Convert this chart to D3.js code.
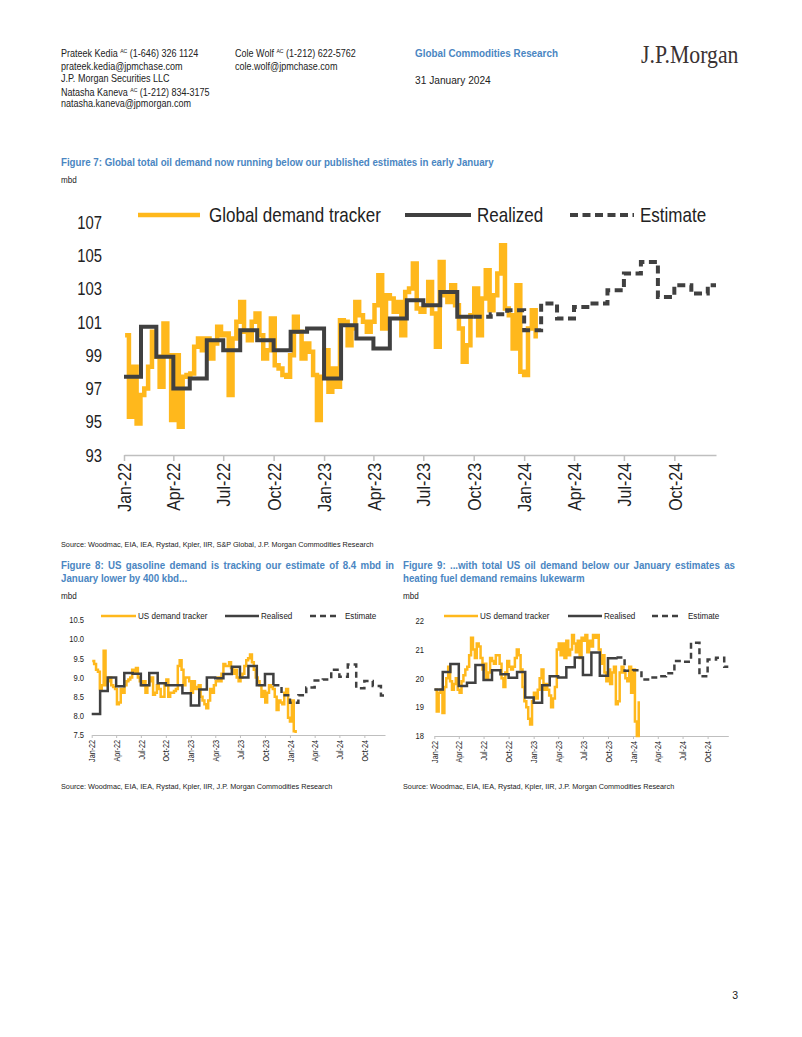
<!DOCTYPE html>
<html>
<head>
<meta charset="utf-8">
<script src="https://cdn.jsdelivr.net/npm/d3@7"></script>
<style>
  body { margin: 0; background: #fff; }
  svg text { font-family: 'Liberation Sans', Arial, sans-serif; fill: #222; }
</style>
</head>
<body>
<svg id="page" width="802" height="1037"></svg>
<script>
// ---- data ----
const quarterLabels = ["Jan-22","Apr-22","Jul-22","Oct-22","Jan-23","Apr-23","Jul-23","Oct-23","Jan-24","Apr-24","Jul-24","Oct-24"];

// Figure 7: global demand (mbd), weekly tracker from first week of Jan-22
const globalTracker = [100.2,95.3,98.3,94.9,96.6,97.0,98.3,100.4,98.9,97.1,100.9,99.0,95.1,99.0,94.7,97.7,97.8,97.9,99.5,100.0,
  99.3,100.0,98.8,99.7,100.7,100.2,100.3,96.6,100.0,101.0,102.2,100.4,99.9,101.0,101.5,100.2,98.8,99.3,101.2,98.4,
  98.2,97.8,97.7,99.0,101.3,100.4,98.8,99.7,99.2,97.8,95.1,97.7,99.3,96.8,98.2,97.1,101.1,101.0,99.6,100.6,
  102.2,101.4,101.0,100.4,101.0,102.0,103.8,100.6,102.6,102.4,101.6,102.2,100.2,102.8,103.0,104.5,101.8,101.6,102.0,103.4,
  101.5,99.5,104.6,102.6,102.2,103.2,102.0,100.6,98.6,99.6,101.4,103.0,100.2,102.4,104.1,101.7,102.6,103.9,105.6,101.8,
  101.4,99.4,103.2,98.0,97.8,100.6,101.7,100.0];
const globalRealized = [97.7,100.7,98.9,97.0,97.6,99.9,99.3,100.5,99.9,99.3,100.4,100.6,
  97.6,100.8,100.0,99.4,101.2,102.3,102.0,102.8,101.3,101.3];           // Jan-22 .. Oct-23
const globalEstimate = [101.3,101.45,101.7,100.5,102.1,101.2,101.9,102.1,102.9,103.9,104.6,102.5,103.2,102.7,103.2]; // Oct-23 .. Dec-24

// Figure 8: US gasoline demand (mbd)
const gasTracker = [9.43,9.35,9.2,9.15,8.7,8.8,9.7,8.8,8.9,9.0,8.8,8.75,8.7,8.3,8.35,8.7,8.6,8.8,8.9,8.95,
  9.0,9.2,9.1,9.25,9.0,8.9,8.8,8.9,8.6,8.8,8.9,9.0,8.55,8.6,8.8,8.7,8.5,8.5,8.8,8.95,
  8.5,8.6,8.6,8.65,8.7,9.3,9.45,9.2,8.8,9.0,9.0,8.9,8.6,8.9,8.7,8.75,8.8,8.5,8.4,8.3,
  8.2,8.4,8.7,8.6,8.8,8.9,9.0,8.9,9.1,9.35,9.3,9.3,9.4,9.25,9.1,9.2,9.0,8.9,9.0,9.1,
  9.3,9.45,9.5,9.6,9.4,9.2,9.0,8.9,8.8,8.5,8.65,8.35,8.6,8.8,8.75,8.7,8.5,8.15,8.4,8.35,
  8.3,8.6,8.7,7.95,7.85,8.4,7.6,7.55];
const gasRealized = [8.05,8.65,9.0,8.77,9.12,9.1,8.8,9.12,8.85,8.8,8.8,8.59,
  8.27,8.69,9.0,8.98,9.09,9.28,9.0,9.3,8.8,9.09,8.8];                  // Jan-22 .. Nov-23
const gasEstimate = [8.8,8.54,8.34,8.54,8.74,8.92,8.95,9.2,9.02,9.34,8.72,8.91,8.78,8.53]; // Nov-23 .. Dec-24

// Figure 9: total US oil demand (mbd)
const usTracker = [19.6,18.85,19.5,19.6,18.8,19.7,20.0,20.4,19.9,19.6,19.8,20.0,19.6,19.5,19.9,20.1,20.3,20.4,20.8,21.4,
  21.0,20.7,21.2,21.1,20.7,20.3,20.5,20.0,20.2,20.7,20.6,20.5,20.8,20.8,20.5,20.0,19.7,20.2,20.6,20.4,
  20.3,20.4,20.7,21.0,20.8,20.3,19.7,19.2,19.0,18.6,18.4,19.2,19.5,19.3,19.6,20.0,20.3,19.6,19.8,19.6,
  19.4,19.0,19.3,19.7,21.0,21.2,20.8,21.2,20.7,21.3,20.8,21.0,21.5,21.2,20.9,21.3,20.7,21.4,21.3,21.5,
  20.9,21.3,21.1,21.5,21.4,21.5,21.0,20.5,20.8,20.2,19.9,20.3,19.8,20.2,20.4,19.1,19.2,20.2,20.4,20.2,
  20.0,19.9,20.4,19.5,20.3,18.5,18.0,19.2];
const usRealized = [19.61,20.22,20.49,19.73,19.84,20.46,19.94,20.28,20.14,20.02,20.22,19.33,
  19.15,19.76,20.07,20.03,20.38,20.72,20.11,20.89,20.09,20.69,20.72];   // Jan-22 .. Nov-23
const usEstimate = [20.72,20.26,20.28,19.96,20.03,20.07,20.17,20.6,20.57,21.23,20.07,20.65,20.71,20.4]; // Nov-23 .. Dec-24

// ---- helpers ----
const YELLOW = "#FFB81C", DARK = "#404040", BLUE = "#4A86C2", AXIS = "#BFBFBF";
const xStart = new Date(2022, 0, 1), xEnd = new Date(2024, 11, 16);
const weekly = (arr) => arr.map((v, i) => ({ date: d3.timeWeek.offset(new Date(2022, 0, 3), i), value: v }));
const monthly = (arr, y, m) => arr.map((v, i) => ({ date: new Date(y, m + i, 1), value: v }));

const svg = d3.select("#page");
svg.append("rect").attr("width", 802).attr("height", 1037).attr("fill", "#fff");

// text drawn narrow like the pdf's Arial (horizontal squeeze)
function txt(x, y, s, size, opts = {}) {
  const sx = opts.sx || 1;
  const t = svg.append("text").attr("transform", `translate(${x},${y}) scale(${sx},1)`)
    .attr("font-size", size).text(s);
  if (opts.fill) t.style("fill", opts.fill);
  if (opts.weight) t.attr("font-weight", opts.weight);
  if (opts.anchor) t.attr("text-anchor", opts.anchor);
  if (opts.family) t.style("font-family", opts.family);
  if (opts.justify) {
    // stretch the word gaps so the line ends at the column edge
    const w = t.node().getComputedTextLength();
    const gaps = s.split(" ").length - 1;
    t.attr("word-spacing", (opts.justify / sx - w) / gaps);
  }
  return t;
}
function nameLine(x, y, name, rest) {
  const t = svg.append("text").attr("transform", `translate(${x},${y}) scale(0.86,1)`).attr("font-size", 10.5);
  t.append("tspan").text(name + " ");
  t.append("tspan").attr("font-size", 6).attr("dy", -4).text("AC");
  t.append("tspan").attr("dy", 4).text(" " + rest);
}

// ---- header ----
nameLine(61, 57, "Prateek Kedia", "(1-646) 326 1124");
txt(61, 70, "prateek.kedia@jpmchase.com", 10.5, { sx: 0.86 });
txt(61, 82, "J.P. Morgan Securities LLC", 10.5, { sx: 0.86 });
nameLine(61, 96, "Natasha Kaneva", "(1-212) 834-3175");
txt(61, 107, "natasha.kaneva@jpmorgan.com", 10.5, { sx: 0.86 });
nameLine(235, 57, "Cole Wolf", "(1-212) 622-5762");
txt(235, 70, "cole.wolf@jpmchase.com", 10.5, { sx: 0.86 });
txt(415, 57, "Global Commodities Research", 10.5, { fill: BLUE, weight: "bold", sx: 0.94 });
txt(415, 84, "31 January 2024", 10.5, { sx: 0.97 });
txt(641, 63, "J.P.Morgan", 25, { fill: "#3a3232", family: "'Liberation Serif', 'DejaVu Serif', serif", sx: 0.87 });

// ---- titles ----
txt(61, 166, "Figure 7: Global total oil demand now running below our published estimates in early January", 11.5, { fill: BLUE, weight: "bold", sx: 0.845 });
txt(61, 183, "mbd", 9, { sx: 0.9 });
txt(61, 547, "Source: Woodmac, EIA, IEA, Rystad, Kpler, IIR, S&P Global, J.P. Morgan Commodities Research", 8, { sx: 0.91 });

txt(61, 569, "Figure 8: US gasoline demand is tracking our estimate of 8.4 mbd in", 11.5, { fill: BLUE, weight: "bold", sx: 0.845, justify: 333 });
txt(61, 582, "January lower by 400 kbd...", 11.5, { fill: BLUE, weight: "bold", sx: 0.845 });
txt(61, 599, "mbd", 9, { sx: 0.9 });
txt(403, 569, "Figure 9: ...with total US oil demand below our January estimates as", 11.5, { fill: BLUE, weight: "bold", sx: 0.845, justify: 332 });
txt(403, 582, "heating fuel demand remains lukewarm", 11.5, { fill: BLUE, weight: "bold", sx: 0.845 });
txt(403, 599, "mbd", 9, { sx: 0.9 });

txt(61, 789, "Source: Woodmac, EIA, IEA, Rystad, Kpler, IIR, J.P. Morgan Commodities Research", 8, { sx: 0.91 });
txt(403, 789, "Source: Woodmac, EIA, IEA, Rystad, Kpler, IIR, J.P. Morgan Commodities Research", 8, { sx: 0.91 });
txt(738, 999, "3", 10.5, { anchor: "end" });

// ---- charts ----
function drawChart(c) {
  const x = d3.scaleTime().domain([xStart, xEnd]).range(c.xr);
  const y = d3.scaleLinear().domain(c.yd).range(c.yr);
  const g = svg.append("g");

  // y tick labels (no axis line)
  g.selectAll(".yl").data(c.yTicks).enter().append("text")
    .attr("transform", d => `translate(${c.yLabelX},${y(d)}) scale(${c.yScaleX},1)`)
    .attr("dy", "0.35em").attr("text-anchor", "end").attr("font-size", c.tickFont)
    .text(d => c.yFmt(d));

  // x axis with rotated labels
  const tickDates = quarterLabels.map((_, i) => new Date(2022, i * 3, 1));
  const ax = g.append("g").attr("transform", `translate(0,${c.yr[0]})`)
    .call(d3.axisBottom(x).tickValues(tickDates).tickSize(c.tickLen).tickSizeOuter(0).tickFormat((d, i) => quarterLabels[i]));
  ax.select(".domain").attr("stroke", AXIS).attr("stroke-width", c.axisW);
  ax.selectAll(".tick line").attr("stroke", AXIS).attr("stroke-width", c.axisW);
  ax.selectAll(".tick text")
    .attr("font-size", c.xFont).attr("font-family", null).style("fill", "#222")
    .attr("transform", `rotate(-90) scale(${c.xScaleX},1)`).attr("text-anchor", "end")
    .attr("x", -(c.tickLen + 2) / c.xScaleX).attr("y", 0).attr("dy", "0.35em");

  const line = d3.line().x(d => x(d.date)).y(d => y(d.value)).curve(d3.curveStepAfter);
  const extendEnd = arr => arr.concat([{ date: xEnd, value: arr[arr.length - 1].value }]);

  g.append("path").datum(weekly(c.tracker)).attr("d", line)
    .attr("fill", "none").attr("stroke", YELLOW).attr("stroke-width", c.trackW);
  g.append("path").datum(extendEnd(monthly(c.estimate, 2023, c.estStartMonth)))
    .attr("d", line).attr("fill", "none").attr("stroke", DARK)
    .attr("stroke-width", c.lineW).attr("stroke-dasharray", c.dash);
  const real = monthly(c.realized, 2022, 0);
  real.push({ date: new Date(2023, c.estStartMonth, 1), value: c.realized[c.realized.length - 1] });
  g.append("path").datum(real).attr("d", line)
    .attr("fill", "none").attr("stroke", DARK).attr("stroke-width", c.lineW);

  // legend
  const L = c.legend;
  const items = [
    { name: c.names[0], color: YELLOW, w: c.trackW, dash: null },
    { name: c.names[1], color: DARK, w: c.lineW, dash: null },
    { name: c.names[2], color: DARK, w: c.lineW, dash: c.dash }
  ];
  items.forEach((it, i) => {
    g.append("line").attr("x1", L.x1[i]).attr("x2", L.x2[i]).attr("y1", L.y).attr("y2", L.y)
      .attr("stroke", it.color).attr("stroke-width", it.w).attr("stroke-dasharray", it.dash);
    g.append("text").attr("transform", `translate(${L.tx[i]},${L.y}) scale(${L.sx},1)`)
      .attr("dy", "0.35em").attr("font-size", L.font).text(it.name);
  });
}

drawChart({
  xr: [124, 716], yd: [93, 107], yr: [455, 222],
  yTicks: d3.range(93, 108, 2), yFmt: d3.format("d"), yLabelX: 102,
  tickFont: 19, yScaleX: 0.78, xFont: 19, xScaleX: 0.84, tickLen: 6, axisW: 1.5,
  tracker: globalTracker, realized: globalRealized, estimate: globalEstimate, estStartMonth: 9,
  trackW: 4.5, lineW: 4, dash: "8,4.5",
  names: ["Global demand tracker", "Realized", "Estimate"],
  legend: { y: 215, font: 20, sx: 0.85, x1: [138, 405, 570], x2: [200, 471, 634], tx: [209, 477, 640] }
});

drawChart({
  xr: [91.7, 385], yd: [7.5, 10.5], yr: [735, 620],
  yTicks: d3.range(7.5, 10.51, 0.5), yFmt: d3.format(".1f"), yLabelX: 84,
  tickFont: 9.5, yScaleX: 0.8, xFont: 9, xScaleX: 0.8, tickLen: 3, axisW: 1,
  tracker: gasTracker, realized: gasRealized, estimate: gasEstimate, estStartMonth: 10,
  trackW: 2.5, lineW: 2.5, dash: "6,4",
  names: ["US demand tracker", "Realised", "Estimate"],
  legend: { y: 616, font: 9.5, sx: 0.85, x1: [101, 225, 310], x2: [136, 259, 339], tx: [138, 261, 345] }
});

drawChart({
  xr: [434.3, 728.3], yd: [18, 22], yr: [736, 620.5],
  yTicks: d3.range(18, 22.01, 1), yFmt: d3.format("d"), yLabelX: 424,
  tickFont: 9.5, yScaleX: 0.8, xFont: 9, xScaleX: 0.8, tickLen: 3, axisW: 1,
  tracker: usTracker, realized: usRealized, estimate: usEstimate, estStartMonth: 10,
  trackW: 2.5, lineW: 2.5, dash: "6,4",
  names: ["US demand tracker", "Realised", "Estimate"],
  legend: { y: 616, font: 9.5, sx: 0.85, x1: [444, 568, 652], x2: [478, 602, 681], tx: [480, 604, 688] }
});
</script>
</body>
</html>
